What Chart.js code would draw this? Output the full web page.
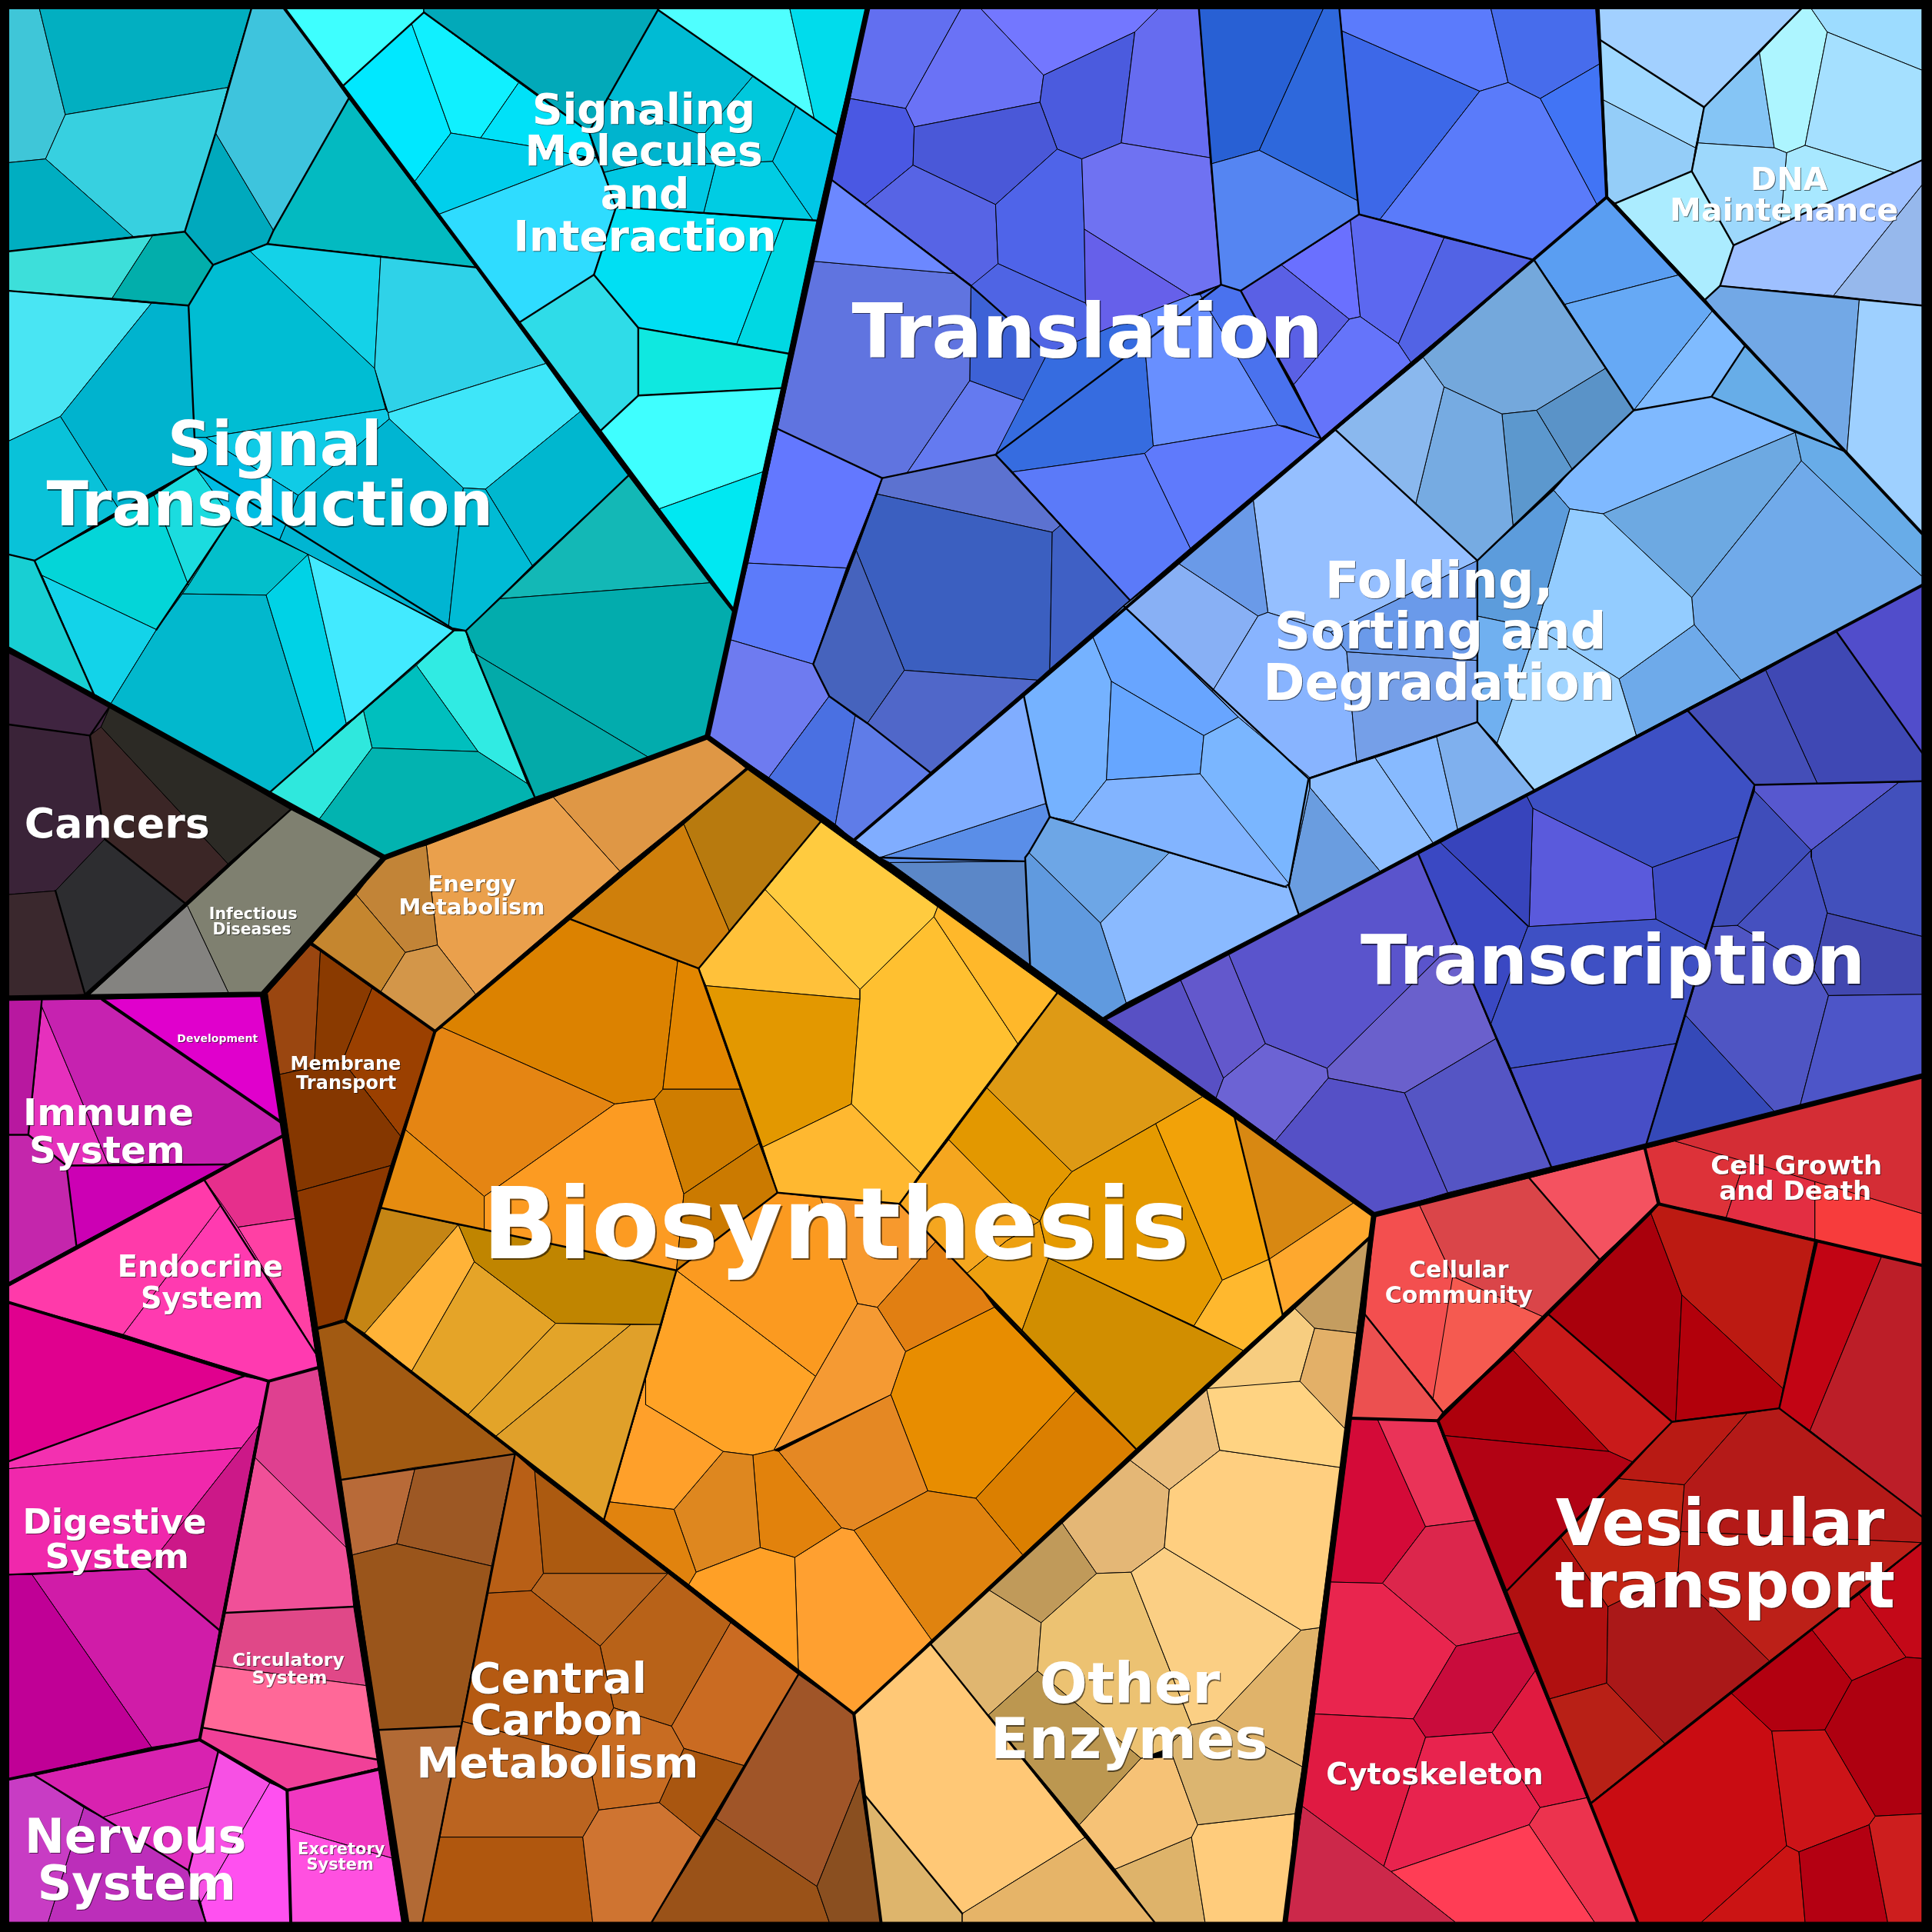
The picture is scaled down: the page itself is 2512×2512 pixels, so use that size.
<!DOCTYPE html>
<html><head><meta charset="utf-8">
<style>html,body{margin:0;padding:0;background:#000}canvas{display:block}</style>
<script src="https://cdn.jsdelivr.net/npm/chart.js@4"></script></head>
<body><canvas id="c" width="2512" height="2512"></canvas>
<script>
// Cell outlines, as flat x,y lists in picture units (0..1568)
const signalTransduction=[
[7,7,32,7,53,93,37,129,7,132],[32,7,204,7,185,71,53,93],[53,93,185,71,175,108,150,188,108,192,37,129],[7,132,37,129,108,192,7,204],
[7,204,124,191,91,242,7,236],[124,191,150,188,173,215,153,248,91,242],[175,108,222,187,217,198,203,204,173,215,150,188],[204,7,231,7,283,80,222,187,175,108,185,71],
[283,80,386,217,309,208,217,198,222,187],[203,204,217,198,309,208,304,299],[309,208,386,217,443,295,315,335,304,299],[153,248,173,215,203,204,304,299,313,332,167,355,157,355],
[167,355,313,332,315,335,316,340,242,402],[157,355,167,355,242,402,227,438,188,420,159,380],[315,335,443,295,471,334,394,397,376,396,316,340],[242,402,316,340,376,396,364,509,227,438],
[394,397,471,334,510,386,432,459],[376,396,394,397,432,459,378,512,367,510,364,509],[7,236,123,246,49,338,7,358],[123,246,153,248,159,380,97,414,49,338],
[7,358,49,338,97,414,28,455,7,450],[28,455,125,402,153,475,127,511,34,467],[125,402,159,380,188,420,153,475],[188,420,250,450,216,483,148,482,153,475],
[34,467,127,511,90,571,76,563],[7,450,28,455,34,467,76,563,7,527],[148,482,216,483,255,611,219,643,90,571,127,511],[216,483,250,450,281,587,255,611],
[250,450,368,512,338,540,295,577,281,587],[368,512,378,512,428,636,388,610,338,540],[338,540,388,610,302,607,295,577],[295,577,302,607,259,665,219,643],
[302,607,388,610,428,636,434,647,312,696,259,665],[510,386,576,473,405,486],[378,512,405,486,576,473,595,497,574,598,527,615,383,529],[378,512,383,529,527,615,434,647]];
const signalTransductionColors=['#3fc6d8','#02afc1','#37d0e0','#00aec1','#3ddfda','#02aeab','#00a9bd','#3ec4dd','#03bac1','#14d2e8','#2fd2e8','#00bdd3','#10cbe6','#00bde3','#3ee6f9','#00b5d2','#00b7cf','#00bbd5','#49e5f3','#00b3ce','#09c2d9','#04d5d8','#1bdcdf','#03bfcb','#13d3e9','#18cfd3','#02b8cd','#00d2e6','#42eaff','#30ebe3','#00bfbe','#2fe8dd','#02b3b0','#13b8b6','#02acad','#03aaa9'];

const signalingMolecules=[
[231,7,344,7,344,10,278,70],[278,70,334,19,366,108,336,148],[334,19,344,10,421,67,390,112,366,108],[390,112,421,67,436,78,478,107,484,128,474,127,427,118],
[366,108,427,118,474,127,463,133,356,174,336,148],[356,174,463,133,484,128,490,140,500,168,482,223,421,262],[421,262,482,223,518,266,518,321,487,350],[518,266,640,287,634,315,518,321],
[518,321,634,315,619,383,535,413,487,350],[535,413,619,383,596,496],[482,223,500,168,636,178,598,279,518,266],[636,178,663,179,640,287,598,279],
[344,7,534,7,534,8,493,80,478,107,421,67,344,10],[534,8,534,7,641,7,661,97,611,62],[641,7,704,7,679,109,661,97],[534,8,611,62,572,108,566,108,523,92,493,80],
[611,62,646,86,627,131,581,133,566,108,572,108],[646,86,679,109,663,179,660,179,627,131],[627,131,660,179,571,173,581,133],[493,80,523,92,566,108,581,133,523,132,490,140,478,107],[490,140,523,132,581,133,571,173,500,168]];
const signalingMoleculesColors=['#3effff','#00e8ff','#10f0ff','#00e1f8','#00cfec','#2fdcff','#2fdce8','#0fe8e0','#3fffff','#00e8f2','#00dff3','#00d8e3','#02a9b9','#4fffff','#00dcec','#00bbd4','#00c8dc','#00c6e6','#00cce3','#00b4ce','#00c8e3'];

const translation=[
[704,7,780,7,735,88,690,80],[780,7,796,7,847,61,844,83,742,103,735,88],[796,7,940,7,921,26,847,61],[847,61,921,26,910,116,878,129,858,121,844,83],[921,26,940,7,973,7,982,128,910,116],
[690,80,735,88,742,103,741,134,702,166,675,146],[742,103,844,83,858,121,808,166,741,134],[741,134,808,166,810,214,789,232,702,166],[808,166,858,121,878,129,880,186,881,246,810,214],
[878,129,910,116,982,128,991,231,966,240,880,186],[880,186,966,240,927,255,891,270,881,246],[810,214,881,246,891,270,850,287,788,232],[788,232,850,287,831,325,787,309],
[660,212,775,222,788,232,787,309,736,384,716,388,631,348],[675,146,775,222,660,212],[787,309,831,325,808,369,736,384],[850,287,891,270,927,255,936,362,929,368,822,383,808,369],
[927,255,966,240,974,239,1037,345,936,362],[974,239,991,231,1007,236,1072,356,1044,346,1037,345],[929,368,936,362,1037,345,1072,356,966,445],[822,383,929,368,966,445,917,487],
[716,388,808,369,861,426,854,432,712,401],[712,401,854,432,852,543,842,552,734,544,695,447],[854,432,861,426,917,487,852,543],[695,447,734,544,704,587,673,565,660,539],
[734,544,842,552,755,627,704,587],[631,348,716,388,687,461,607,457],[607,457,687,461,660,539,592,519],[592,519,660,539,673,565,624,631,574,598],[673,565,694,581,678,669,624,631],[694,581,704,587,755,627,693,682,678,669],
[973,7,1074,7,1022,122,983,133],[1074,7,1087,7,1102,163,1022,122],[983,133,1022,122,1102,163,1103,174,1007,236,991,231],[1089,25,1201,74,1120,178,1103,174,1102,163],[1087,7,1210,7,1224,67,1201,74,1089,25],
[1210,7,1295,7,1298,52,1250,80,1224,67],[1298,52,1304,160,1296,166,1250,80],[1224,67,1250,80,1296,166,1245,211,1120,178,1201,74],[1040,215,1096,179,1104,257,1095,259],[1096,179,1103,174,1172,193,1135,279,1104,257],
[1172,193,1245,211,1145,294,1135,279],[1095,259,1104,257,1135,279,1145,294,1072,356,1050,312],[1007,236,1040,215,1095,259,1050,312]];
const translationColors=['#626ff0','#6a72f6','#7377ff','#4b5bde','#666cf0','#4a58e3','#4a58d8','#5764e5','#4f64e9','#6f72f2','#6660ea','#4f64e4','#3d62d6','#6074e0','#6c88ff','#647af0','#366ce0','#688fff','#4a72ee','#5f7afc','#5b7af9','#5c72d0','#3b5fc0','#3f60c5','#4663bd','#5067c9','#6378ff','#5c7bfa','#6e7bf0','#4a70e2','#5f7ce8','#2860d4','#2e68dc','#5585f2','#3d68e8','#5b7bfc','#476cec','#4174f5','#5a7bfa','#6a70ff','#5c68f0','#5263e5','#6574fa','#5a60e5'];

const foldingSorting=[
[1245,211,1304,160,1363,223,1270,247],[1270,247,1363,223,1390,252,1326,333],[1390,252,1416,281,1389,322,1326,333],[1416,281,1499,367,1389,322],
[1245,211,1270,247,1303,299,1247,333,1219,336,1172,314,1155,290],[1303,299,1326,333,1276,381,1247,333],[1219,336,1247,333,1276,381,1228,427],[1172,314,1219,336,1228,427,1199,455,1149,409],[1155,290,1172,314,1149,409,1084,349],
[1326,333,1389,322,1457,351,1301,417,1274,413,1261,398,1276,381],[1457,351,1462,374,1373,485,1301,417],[1457,351,1499,367,1560,433,1560,468,1462,374],[1462,374,1560,468,1560,475,1413,552,1375,507,1373,485],[1375,507,1413,552,1328,597,1314,551],
[1274,413,1301,417,1373,485,1375,507,1314,551,1271,524,1247,510],[1247,510,1271,524,1314,551,1328,597,1245,641,1215,603],[1199,455,1261,398,1274,413,1247,510,1199,500],[1199,500,1247,510,1215,603,1199,586],
[1084,349,1199,455,1080,513,1029,497,1017,405],[956,457,1017,405,1029,497,1021,500],[912,492,956,457,1021,500,984,561],[1021,500,1029,497,1080,513,1093,529,1101,618,1063,631,1005,582,984,561],[1093,529,1199,536,1199,586,1101,618],[1080,513,1199,455,1199,536,1093,529],
[1063,631,1116,615,1163,684,1120,707,1063,639],[1116,615,1166,598,1183,673,1163,684],[1166,598,1199,586,1245,641,1183,673],[1063,639,1120,707,1054,742,1046,719],
[949,692,1046,719,1054,742,914,814,893,749],[835,692,852,663,949,692,893,749],[832,696,835,692,893,749,914,814,895,826,836,783],[722,700,832,699,836,783],[714,696,849,652,852,663,835,692,832,696,832,699,722,700],
[693,681,831,565,849,652,714,696],[831,565,887,517,902,553,898,633,871,667,852,663,849,652],[887,517,912,492,1005,582,977,597,902,553],[902,553,977,597,974,628,898,633],[977,597,1005,582,1063,631,1063,639,1046,719,974,628],[871,667,898,633,974,628,1046,717,1042,720,949,692,852,663]];
const foldingSortingColors=['#5a9ef2','#66a9f5','#7fbbff','#67ade8','#74a8dc','#5a93c8','#5c98ce','#76abe2','#8ab8ee','#7fb9ff','#6da9e2','#68ace8','#70aaea','#6eaaea','#93ccff','#a2d5ff','#5c9cdc','#70b0f0','#95bfff','#6a9ae8','#88b0f5','#88b4ff','#759fe8','#6a9aea','#8fbfff','#87baff','#7fb0ee','#6a9de0','#8abaff','#6da6e6','#609adf','#5b87c8','#5a8ee8','#80adff','#75b2ff','#68a5ff','#66a6ff','#7ab6ff','#82b4ff'];

const dnaMaintenance=[
[1297,7,1462,7,1383,87,1298,32],[1298,32,1383,87,1376,120,1301,81],[1301,81,1376,120,1373,139,1311,165,1305,160],[1428,43,1440,120,1378,116,1383,87],[1462,7,1470,7,1483,26,1465,118,1450,124,1440,120,1428,43],
[1470,7,1560,7,1560,57,1483,26],[1483,26,1560,57,1560,130,1537,140,1465,118],[1450,124,1465,118,1537,140,1445,182],[1378,116,1440,120,1450,124,1445,182,1407,199,1373,139],[1311,165,1373,139,1407,199,1396,232,1384,243],
[1396,232,1407,199,1560,130,1560,150,1488,240],[1560,150,1560,248,1488,240],[1384,243,1396,232,1488,240,1509,243,1499,367,1416,281],[1509,243,1560,248,1560,433,1499,367]];
const dnaMaintenanceColors=['#a2d0ff','#a0d8ff','#94cdf8','#85c5f5','#adf5ff','#9ddcff','#a5e0ff','#a8e8ff','#9dd8fc','#abecff','#9ec0ff','#96b8ec','#72a8e6','#9ed0ff'];

const transcription=[
[1490,512,1560,475,1560,611],[1433,544,1490,512,1560,611,1560,634,1475,636],[1370,577,1433,544,1475,636,1424,637],[1239,646,1370,577,1424,637,1411,679,1341,704,1244,656],[1244,656,1341,704,1344,746,1241,752],
[1341,704,1411,679,1390,752,1384,767,1344,746],[1169,684,1239,646,1244,656,1241,752],[1151,693,1169,684,1240,752,1210,831],[1240,752,1344,746,1384,767,1360,847,1226,867,1210,831],[1226,867,1360,847,1336,929,1259,947],
[1368,824,1440,902,1336,929],[1390,752,1410,751,1472,787,1484,808,1461,897,1440,902,1368,824],[1424,642,1470,690,1410,751,1390,752,1411,679],[1424,637,1475,636,1541,635,1470,690,1424,642],[1541,635,1560,634,1560,760,1483,741,1470,696,1470,690],
[1470,690,1470,696,1483,741,1472,787,1410,751],[1483,741,1560,760,1560,807,1484,808,1472,787],[1484,808,1560,807,1560,873,1461,897],[897,827,958,795,993,875,987,891],[958,795,997,774,1027,847,993,875],
[997,774,1151,693,1181,764,1077,867,1027,847],[1181,764,1214,843,1140,887,1078,875,1077,867],[1027,847,1077,867,1078,875,1035,926,987,891,993,875],[1078,875,1140,887,1175,968,1115,986,1035,926],[1140,887,1214,843,1259,947,1175,968]];
const transcriptionColors=['#514dcb','#3f48b4','#444eb8','#3d50c4','#5a5adc','#3e4cc4','#3744bc','#3a48c3','#3e50c4','#474ec6','#3549b8','#4f55c3','#3f4dba','#5758cf','#4250bc','#4550bf','#4248b0','#4d55c8','#5850c4','#6358cc','#5a54cc','#6a60cc','#6c63d4','#5550c6','#5555c4'];

const biosynthesis=[
[606,624,666,667,592,756,555,669],[463,746,555,669,592,756,567,786],[353,837,463,746,550,780,538,884,531,892,499,896,359,834],[550,780,567,786,601,884,538,884],[353,837,359,834,499,896,393,971,328,916],
[328,916,393,971,393,998,308,980],[393,971,499,896,531,892,555,969,549,1031,393,998],[531,892,538,884,601,884,616,928,555,969],[555,969,616,928,631,968,549,1031],
[666,667,761,736,758,744,698,803,621,722],[621,722,698,803,698,811,573,800,567,786],[573,800,698,811,691,896,619,931],[698,803,758,744,826,847,747,952,691,896,698,811],[758,744,761,736,858,806,826,847],[619,931,691,896,747,952,730,977,631,968],
[858,806,976,890,870,951,800,882],[800,882,870,951,852,972,844,991,820,976,770,925],[770,925,820,976,844,991,817,1007,784,1034,730,977],[784,1034,817,1007,844,991,851,1021,829,1081,797,1047],[851,1021,1009,1096,922,1176,829,1081],
[870,951,938,912,992,1039,969,1076,851,1021,844,991,852,972],[938,912,976,890,1002,907,1030,1022,992,1039],[992,1039,1030,1022,1041,1067,1009,1096,969,1076],[1002,907,1099,976,1030,1022],[1030,1022,1099,976,1115,986,1112,1004,1041,1067],
[549,1031,662,1117,628,1177,611,1181,587,1178,524,1140,524,1118,537,1075],[549,1031,631,968,666,972,684,1024,696,1058,662,1117],[666,972,730,977,760,1007,712,1061,696,1058,684,1024],[760,1007,797,1047,807,1061,735,1097,712,1061],
[696,1058,712,1061,735,1097,723,1132,628,1177,662,1117],[735,1097,807,1061,873,1129,792,1216,753,1210,723,1132],[873,1129,922,1176,830,1262,792,1216],[723,1132,753,1210,693,1242,683,1240,632,1178],[753,1210,792,1216,830,1262,756,1331,693,1242],
[683,1240,693,1242,756,1331,693,1391,648,1357,645,1264],[611,1181,628,1177,632,1178,683,1240,645,1264,617,1256],[587,1178,611,1181,617,1256,565,1276,547,1225],[524,1118,524,1140,587,1178,547,1225,495,1219],[495,1219,547,1225,565,1276,559,1286,490,1234],[565,1276,617,1256,645,1264,648,1357,559,1286],
[308,980,372,994,296,1082,279,1071],[372,994,385,1024,334,1113,296,1082],[385,1024,451,1074,380,1148,334,1113],[372,994,393,998,549,1031,537,1075,451,1074,385,1024],[451,1074,512,1075,402,1166,380,1148],[512,1075,537,1075,490,1234,402,1166]];
const biosynthesisColors=['#b87a0e','#cf7f0b','#dc8200','#e28600','#e58513','#e68c10','#fc9b22','#cf7d00','#cb7a00','#ffcb3f','#ffc13a','#e39800','#ffc030','#ffb82a','#ffb830','#de9a15','#e39800','#f5a61f','#eda010','#d18e00','#e59a00','#f2a208','#ffb82e','#d88812','#fea82e','#ffa326','#fb9a20','#f7992d','#e17f12','#f59a33','#e88d00','#db7f00','#e58823','#e0830f','#ffa030','#e2820c','#de871f','#ffa02a','#e1830e','#ffa026','#c58514','#ffb338','#e5a428','#c08500','#e3a429','#e0a02a'];

const energyMembrane=[
[449,647,574,598,606,624,503,707],[346,686,449,647,503,707,386,807,355,767],[312,696,346,686,355,767,329,773,289,726],[289,726,329,773,309,805,253,766],[329,773,355,767,386,807,353,837,309,805],
[217,806,252,767,260,772,255,866,227,872],[260,772,302,802,278,861,255,866],[302,802,353,837,325,922,278,861],[227,872,278,861,325,922,317,946,241,967],[241,967,317,946,280,1072,258,1078]];
const energyMembraneColors=['#df9745','#eaa04c','#c28437','#c5862f','#d39649','#9a4610','#8a3a00','#9b4000','#853700','#8c3800'];

const centralCarbon=[
[258,1078,278,1071,418,1180,277,1201],[277,1201,337,1191,322,1253,286,1262],[337,1191,418,1180,399,1271,322,1253],[286,1262,322,1253,399,1271,374,1401,307,1404],[307,1404,374,1401,343,1560,330,1560],
[418,1180,434,1194,441,1277,431,1291,396,1293,399,1271],[434,1194,542,1277,441,1277],[441,1277,542,1277,487,1336,431,1291],[542,1277,593,1317,545,1401,498,1386,487,1336],[593,1317,648,1359,604,1433,555,1419,545,1401],
[555,1419,604,1433,569,1491,535,1463],[498,1386,545,1401,555,1419,535,1463,486,1469,477,1424],[396,1293,431,1291,487,1336,498,1386,477,1424,375,1397],[375,1397,477,1424,486,1469,473,1491,357,1491],[357,1491,473,1491,481,1560,343,1560],
[473,1491,486,1469,535,1463,569,1491,529,1560,481,1560],[648,1359,693,1391,698,1444,663,1531,581,1476],[581,1476,663,1531,673,1560,529,1560],[698,1444,715,1560,673,1560,663,1531]];
const centralCarbonColors=['#a25a12','#b86a38','#9d5824','#9a551b','#b26a35','#b85f16','#ac5a10','#b8651e','#b86218','#ca6b22','#a95610','#c86c22','#b55a12','#bb6420','#b0570e','#cf7431','#a05528','#9a5218','#8a4f20'];

const otherEnzymes=[
[693,1391,755,1334,881,1491,781,1553,702,1457],[702,1457,781,1553,781,1560,715,1560],[881,1491,937,1560,781,1560,781,1553],[905,1517,967,1491,978,1560,937,1560],[972,1481,1051,1472,1044,1560,978,1560,967,1491],
[876,1481,926,1427,952,1426,972,1481,967,1491,905,1517],[802,1392,842,1356,926,1427,876,1481],[755,1334,802,1290,845,1317,842,1356,802,1392],[802,1290,862,1236,890,1277,845,1317],[862,1236,917,1185,949,1209,945,1256,918,1276,890,1277],
[917,1185,979,1126,990,1177,949,1209],[845,1317,890,1277,918,1276,967,1400,943,1421,926,1427,842,1356],[918,1276,945,1256,1056,1323,987,1396,967,1400],[987,1396,1056,1323,1071,1321,1057,1434],[952,1426,943,1421,967,1400,987,1396,1057,1434,1051,1472,972,1481],
[949,1209,990,1177,1088,1191,1071,1321,1056,1323,945,1256],[979,1126,1055,1121,1092,1160,1088,1191,990,1177],[979,1127,1051,1062,1067,1078,1055,1121],[1051,1062,1112,1004,1101,1082,1067,1078],[1067,1078,1101,1082,1092,1160,1055,1121]];
const otherEnzymesColors=['#ffc876','#deb56c','#e6b468','#deb36a','#ffcc7c','#f6c276','#bc9750','#e0b670','#c09a5a','#e4b776','#eabe7e','#ecc272','#fbcf84','#e0b36a','#dcb570','#ffcf80','#ffd382','#f7cd80','#c49d60','#e3b068'];

const communityGrowth=[
[1116,986,1152,978,1179,1036,1178,1054,1163,1135,1108,1067],[1152,978,1241,956,1298,1022,1253,1069,1179,1036],[1241,956,1335,932,1347,976,1298,1022],[1179,1036,1253,1069,1171,1146,1163,1135],[1108,1067,1163,1135,1171,1146,1166,1153,1097,1151],
[1335,932,1359,926,1416,942,1401,988,1347,977],[1359,926,1560,873,1560,985],[1416,942,1473,959,1473,1006,1401,988],[1473,959,1560,985,1560,1027,1473,1006]];
const communityGrowthColors=['#f34f4f','#da4549','#f45260','#f55a50','#ec5050','#dd3239','#d42d35','#e32e42','#f73c3c'];

const vesicularTransport=[
[1340,985,1365,1051,1360,1153,1357,1154,1257,1067],[1347,977,1473,1006,1447,1127,1365,1051,1340,985],[1365,1051,1447,1127,1444,1143,1360,1153],[1475,1007,1527,1020,1469,1161,1444,1143],[1527,1020,1560,1027,1560,1231,1469,1161],
[1228,1096,1257,1067,1357,1154,1326,1187,1306,1178],[1166,1153,1228,1096,1306,1178,1171,1165],[1171,1165,1306,1178,1326,1187,1222,1292],[1222,1292,1267,1248,1305,1304,1304,1366,1257,1379],[1267,1248,1314,1200,1367,1205,1362,1276,1305,1304],
[1314,1200,1357,1154,1418,1147,1367,1205],[1367,1205,1418,1147,1444,1143,1560,1231,1560,1252,1364,1243],[1364,1243,1560,1252,1436,1348,1362,1276],[1305,1304,1362,1276,1436,1348,1351,1415,1304,1366],[1257,1379,1304,1366,1351,1415,1291,1463],
[1291,1463,1405,1374,1438,1405,1450,1498,1381,1560,1329,1560],[1405,1374,1470,1322,1503,1364,1481,1404,1438,1405],[1470,1322,1509,1294,1547,1345,1503,1364],[1509,1294,1560,1252,1560,1346,1547,1345],[1503,1364,1547,1345,1560,1346,1560,1472,1522,1474,1481,1404],
[1438,1405,1481,1404,1522,1474,1517,1481,1460,1503,1450,1498],[1450,1498,1460,1503,1465,1560,1381,1560],[1460,1503,1517,1481,1532,1560,1465,1560],[1522,1474,1560,1472,1560,1560,1532,1560,1517,1481]];
const vesicularTransportColors=['#a9000c','#bc1a12','#b2000b','#c20414','#bc1e28','#c91a1a','#ad000c','#b20214','#b01010','#c22514','#b81a14','#b41a18','#bc2018','#aa1818','#b82016','#c90c12','#b20010','#c40d18','#c40818','#ae0010','#cc1418','#cb1414','#b40012','#cd1e1e'];

const cytoskeleton=[
[1097,1151,1118,1152,1157,1239,1122,1285,1080,1284],[1118,1152,1166,1153,1197,1234,1157,1239],[1157,1239,1197,1234,1233,1325,1182,1336,1122,1285],[1080,1284,1122,1285,1182,1336,1147,1395,1067,1391],[1182,1336,1233,1325,1246,1356,1211,1406,1157,1410,1147,1395],
[1067,1391,1147,1395,1157,1410,1123,1515,1057,1466],[1157,1410,1211,1406,1250,1467,1241,1481,1129,1519,1123,1515],[1211,1406,1246,1356,1288,1459,1250,1467],[1250,1467,1288,1459,1329,1560,1294,1560,1241,1481],[1129,1519,1241,1481,1294,1560,1181,1560],[1057,1466,1129,1519,1181,1560,1043,1560]];
const cytoskeletonColors=['#d40a38','#ea3358','#dc264c','#e9254e','#c90c3c','#e01a42','#e8234e','#e01a40','#ec334e','#ff3d55','#cc284a'];

const cancersInfectious=[
[7,530,90,572,82,590,73,597,7,588],[7,588,73,597,85,681,45,723,7,726],[73,597,82,590,185,701,150,733,85,681],[82,590,90,572,236,657,185,701],[45,723,85,681,150,733,69,807],[7,726,45,723,69,807,7,810],
[236,657,312,696,213,806,186,807,152,735],[152,735,186,807,72,808]];
const cancersInfectiousColors=['#3f2440','#3a2338','#3b2626','#2c2a25','#2d2d30','#3a282d','#7f8070','#848380'];

const immuneEndocrine=[
[7,811,34,811,23,921,7,921],[34,817,88,945,54,946,23,921],[34,811,83,811,230,912,231,921,185,945,88,945,34,817],[83,811,213,807,230,912],[7,921,23,921,54,946,62,1011,7,1041],[54,946,185,945,62,1011],
[231,922,240,989,193,996,166,958],[193,996,240,989,256,1098],[180,977,193,996,256,1098,258,1110,218,1121,100,1083],[7,1044,166,958,180,977,100,1083,7,1057]];
const immuneEndocrineColors=['#b818a0','#e630bd','#c622b0','#e000cc','#c426ac','#cc00b4','#e62f8c','#ff40a4','#ff3ab0','#ff3aaa'];

const digestiveCirculatory=[
[7,1057,198,1117,7,1186],[7,1186,198,1117,218,1121,210,1157,196,1175,7,1192],[7,1192,196,1175,119,1273,7,1278],[210,1157,178,1323,119,1273,196,1175],[26,1278,119,1273,178,1323,162,1412,123,1418],[7,1278,26,1278,123,1418,7,1444],
[218,1121,258,1110,282,1257,207,1183],[207,1183,282,1257,287,1304,183,1309],[183,1309,287,1304,297,1368,174,1352],[174,1352,297,1368,306,1428,164,1402],[164,1402,306,1428,307,1435,233,1453,162,1412]];
const digestiveCirculatoryColors=['#e0008e','#f330b0','#f028ac','#cc1888','#d01ca8','#c00096','#df4090','#f05098','#e04888','#ff6898','#f04098'];

const nervousExcretory=[
[28,1441,162,1412,177,1422,170,1450,83,1475],[83,1475,170,1450,153,1518],[68,1467,83,1475,153,1518,167,1560,39,1560],[7,1444,28,1441,68,1467,39,1560,7,1560],[177,1422,219,1447,163,1544,153,1518],[219,1447,233,1453,236,1560,167,1560,163,1544],
[233,1453,307,1435,318,1508,235,1484],[235,1484,318,1508,326,1560,236,1560]];
const nervousExcretoryColors=['#d822b0','#e030c0','#bc2eba','#c83cc4','#f750e4','#ff50f0','#f038c0','#ff50e0'];

// Dividing lines between groups, as flat x,y polylines in picture units
const topDividers=[[704,7,574,598,1115,986,1561,873],[7,527,312,696,574,598],[312,696,213,807,7,810],[213,807,330,1560],[1115,986,1043,1560]];
const groupDividers=[[231,7,596,496],[1297,7,1304,160,1560,433],[693,682,1304,160],[897,827,1560,475],[1346,977,1560,1027],[1167,1153,1346,977,1335,932],[1097,1151,1167,1153,1329,1560],[7,1042,231,921],[7,1057,218,1121,258,1110],[218,1121,162,1412],[7,1444,162,1412,233,1453,307,1436],[233,1453,236,1560],[83,811,230,912],[606,624,353,837,253,766],[353,837,280,1072,693,1391,1112,1004],[258,1078,280,1072],[693,1391,715,1560]];
const subDividers=[[7,204,150,188,175,108,204,7],[150,188,173,215,217,198,222,187,283,80],[173,215,153,248,7,236],[153,248,159,380,28,455,7,450],[159,380,367,510,378,512,510,386],[28,455,76,563],[217,198,386,217],[127,511,188,420],[378,512,434,647],[219,643,368,512],
[278,70,344,10,478,107,500,168,482,223,421,262],[500,168,663,179],[518,266,640,287],[518,321,634,315],[482,223,518,266,518,321,487,350],[534,8,679,109],[493,80,534,8],[493,80,478,107],
[675,146,788,232,850,287],[631,348,716,388,808,369,917,487],[808,369,991,231,973,7],[991,231,1007,236,1103,174,1087,7],[1103,174,1245,211],[1007,236,1072,356],[716,388,660,539,673,565,704,587,755,627],
[1245,211,1326,333,1199,455,1084,349],[1326,333,1389,322,1416,281],[1389,322,1499,367],[1199,455,1199,586],[912,492,1062,632,1199,586,1245,641],[1062,632,1046,719,1054,742],[852,663,1044,720],[831,565,849,652,852,663,835,692,832,696,836,783],[714,696,832,699],
[1383,87,1462,7],[1298,32,1383,87,1373,139,1311,165],[1373,139,1407,199,1560,130],[1407,199,1396,232,1384,243],[1396,232,1560,248],
[1151,693,1259,947],[1370,577,1424,637,1336,929],[1424,637,1560,634],[1490,512,1560,611],
[1108,1067,1171,1146],[1241,956,1298,1022],[1335,932,1347,977],[1171,1165,1222,1292],[1222,1292,1357,1154,1444,1143,1475,1007],[1444,1143,1560,1231],[1292,1463,1560,1252],[1257,1067,1357,1154],
[34,811,23,921,7,921],[23,921,54,946,62,1011],[54,946,186,945],[7,1278,119,1273],[119,1273,178,1323],[7,1186,198,1117],[28,1441,153,1518,167,1560],[177,1422,153,1518],[183,1309,287,1304],[164,1402,306,1428],[166,958,256,1098],
[7,588,73,597,90,572],[73,597,85,681,150,733],[236,657,69,807],[45,723,69,807],
[463,746,567,786,631,968,730,977,858,806],[567,786,666,667],[730,977,922,1176],[1002,907,1041,1067],[1112,1004,1041,1067],[308,980,549,1031,490,1234],[549,1031,631,968],
[277,1201,418,1180,343,1560],[307,1404,374,1401],[648,1359,529,1560],[755,1334,881,1491,937,1560],[881,1491,802,1392],[702,1457,781,1553]];

// Text: words, then x centre, baseline y, font size in pixels
const labelWords=['Biosynthesis','Translation','Transcription','Signal','Transduction','Vesicular','transport','Signaling','Molecules','and','Interaction','Folding,','Sorting and','Degradation','DNA','Maintenance','Cell Growth','and Death','Cellular','Community','Cytoskeleton','Other','Enzymes','Central','Carbon','Metabolism','Energy','Metabolism','Cancers','Infectious','Diseases','Membrane','Transport','Development','Immune','System','Endocrine','System','Digestive','System','Circulatory','System','Nervous','System','Excretory','System'];
const labelX=[678.5,882.5,1309,223,219,1396,1400,522.5,522.5,523.5,523.5,1168,1169,1168,1452,1448,1458,1457,1184,1184,1164.5,917,916.5,453,452,452.5,383,383,95,205.5,204.5,280.5,281,176.5,88,87,162.5,164,93,95,234,235,110,111,277,276];
const labelY=[1021,290,798.5,377.5,426.5,1254,1304.5,100.7,134.2,169.2,203.2,485,526.5,568,154,179,953,974,1036.7,1057.7,1448,1382.2,1427.2,1373.7,1407.7,1442.7,723.7,742.2,680,746,758.5,868.5,884,845.5,913.2,943.7,1036,1061.5,1244.7,1272.7,1351.8,1366.3,1503.5,1542,1504.7,1517.2];
const labelSize=[128.6,97.5,88.5,79.5,79.7,83,83,55,55,55,55,65.4,65.4,65.4,41,41,34,34,30,30,38.4,73,73,56,56,56,29,29,53.8,20.5,20.5,24,24,14,48.7,48.7,38.3,38.3,45,45,23.5,23.5,62,62,21,21];

const cellGroups=[[signalTransduction,signalTransductionColors],[signalingMolecules,signalingMoleculesColors],[translation,translationColors],[foldingSorting,foldingSortingColors],[dnaMaintenance,dnaMaintenanceColors],[transcription,transcriptionColors],[biosynthesis,biosynthesisColors],[energyMembrane,energyMembraneColors],[centralCarbon,centralCarbonColors],[otherEnzymes,otherEnzymesColors],[communityGrowth,communityGrowthColors],[vesicularTransport,vesicularTransportColors],[cytoskeleton,cytoskeletonColors],[cancersInfectious,cancersInfectiousColors],[immuneEndocrine,immuneEndocrineColors],[digestiveCirculatory,digestiveCirculatoryColors],[nervousExcretory,nervousExcretoryColors]];

function pts(flat,close){const p=[];for(let i=0;i<flat.length;i+=2)p.push({x:flat[i],y:flat[i+1]});if(close)p.push({x:flat[0],y:flat[1]});return p;}
const datasets=[];
for(const [cells,cols] of cellGroups){cells.forEach((c,i)=>datasets.push({data:pts(c,true),showLine:true,fill:'shape',backgroundColor:cols[i],borderColor:'#000',borderWidth:1,pointRadius:0,tension:0,borderJoinStyle:'round'}));}
function addLines(list,w){for(const l of list)datasets.push({data:pts(l,false),showLine:true,fill:false,borderColor:'#000',borderWidth:w,pointRadius:0,tension:0,borderJoinStyle:'round',borderCapStyle:'round'});}
addLines(subDividers,2.4);addLines(groupDividers,4);addLines(topDividers,7);
datasets.push({data:pts([3.75,3.75,1564.25,3.75,1564.25,1564.25,3.75,1564.25],true),showLine:true,fill:false,borderColor:'#000',borderWidth:12,pointRadius:0,tension:0,borderJoinStyle:'miter'});
datasets.reverse(); // Chart.js paints the first dataset last

const labelPlugin={id:'labels',afterDatasetsDraw(chart){const {ctx,scales:{x,y}}=chart;ctx.save();ctx.textAlign='center';ctx.textBaseline='alphabetic';
labelWords.forEach((w,i)=>{const s=labelSize[i],px=x.getPixelForValue(labelX[i]),py=y.getPixelForValue(labelY[i]);ctx.font='bold '+s+'px "DejaVu Sans"';const o=Math.max(1,s*0.016);ctx.fillStyle='rgba(0,0,0,0.55)';ctx.fillText(w,px+o,py+o);ctx.fillStyle='#fff';ctx.fillText(w,px,py);});ctx.restore();}};

new Chart(document.getElementById('c'),{type:'scatter',data:{datasets},plugins:[labelPlugin],options:{responsive:false,animation:false,parsing:true,layout:{padding:0},plugins:{legend:{display:false},tooltip:{enabled:false},title:{display:false}},scales:{x:{type:'linear',min:0,max:1568,display:false},y:{type:'linear',min:0,max:1568,reverse:true,display:false}}}});
</script></body></html>
